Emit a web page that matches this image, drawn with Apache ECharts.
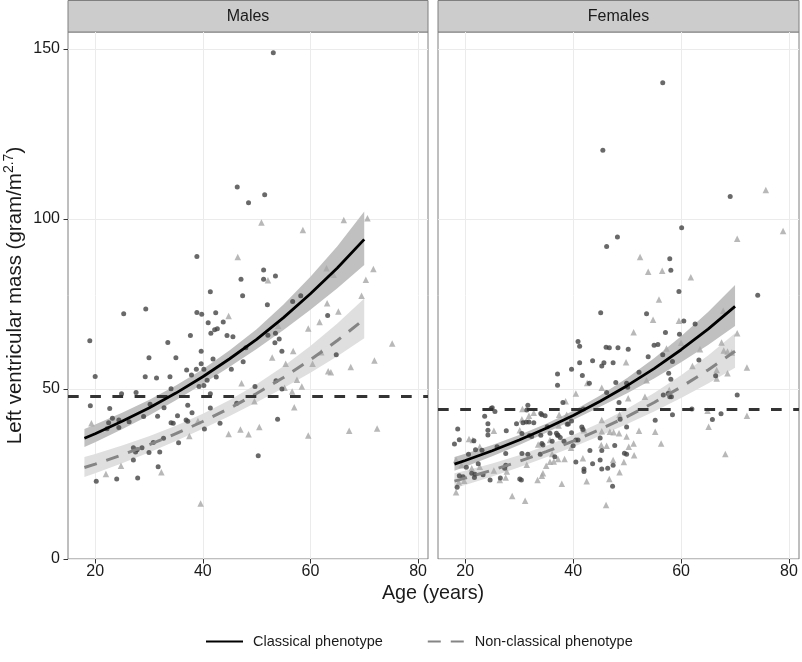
<!DOCTYPE html>
<html><head><meta charset="utf-8">
<script src="https://cdn.jsdelivr.net/npm/echarts@6/dist/echarts.min.js"></script>
<style>html,body{margin:0;padding:0;background:#fff}#c{width:802px;height:662px}</style>
</head><body><div id="c"></div>
<script>
// ---------- axes ----------
const xTicks = [20, 40, 60, 80];
const yTicks = [0, 50, 100, 150];
const xMin = 14.95, xMax = 81.85, yMin = 0, yMax = 155;
const panelNames = ['Males', 'Females'];
const seriesNames = ['Classical phenotype', 'Non-classical phenotype'];
const refLevel = [48, 44.1];

// ---------- fitted curves (read at these ages) ----------
const fitAge = [18, 20, 25, 30, 35, 40, 45, 50, 55, 60, 65, 70];
const maleClassicalFit = [35.5, 36.85, 40.5, 44.43, 48.8, 53.6, 58.9, 64.6, 71.0, 78.0, 85.6, 94.0];
const maleClassicalLo  = [32.95, 34.35, 38.14, 42.22, 46.69, 51.47, 56.53, 61.74, 67.36, 73.32, 79.63, 86.47];
const maleClassicalHi  = [38.24, 39.53, 43.0, 46.75, 51.0, 55.82, 61.37, 67.6, 74.84, 82.98, 92.02, 102.19];
const maleNonClassicalFit = [26.9, 27.91, 30.63, 33.6, 36.86, 40.44, 44.36, 48.67, 53.4, 58.58, 64.26, 70.5];
const maleNonClassicalLo  = [24.15, 25.23, 28.13, 31.3, 34.68, 38.28, 42.07, 46.07, 50.29, 54.78, 59.62, 64.89];
const maleNonClassicalHi  = [29.97, 30.88, 33.35, 36.07, 39.18, 42.73, 46.77, 51.42, 56.7, 62.64, 69.27, 76.6];
const femaleClassicalFit = [27.9, 28.97, 31.83, 34.98, 38.43, 42.23, 46.4, 50.98, 56.01, 61.55, 67.62, 74.3];
const femaleClassicalLo  = [25.98, 27.12, 30.19, 33.54, 37.14, 40.9, 44.76, 48.78, 53.12, 57.85, 62.92, 68.52];
const femaleClassicalHi  = [29.97, 30.95, 33.56, 36.48, 39.76, 43.6, 48.1, 53.27, 59.06, 65.49, 72.67, 80.57];
const femaleNonClassicalFit = [22.9, 23.78, 26.13, 28.72, 31.56, 34.69, 38.12, 41.89, 46.04, 50.59, 55.6, 61.1];
const femaleNonClassicalLo  = [20.8, 21.75, 24.29, 27.02, 29.9, 32.97, 36.23, 39.69, 43.4, 47.36, 51.63, 56.24];
const femaleNonClassicalHi  = [25.21, 25.99, 28.11, 30.53, 33.31, 36.5, 40.11, 44.22, 48.84, 54.04, 59.87, 66.39];

// ---------- observations [age, LV mass index] ----------
const maleClassicalPts = [
[53.1,148.9],[46.4,109.4],[51.5,107.1],[48.5,104.8],[38.9,89.0],
[51.3,85.0],[53.5,83.2],[47.1,82.3],[51.3,82.3],[41.4,78.6],[47.4,77.4],[58.2,77.4],
[25.3,72.1],[29.4,73.5],[38.9,72.5],[39.8,72.0],[42.4,72.4],
[41.0,69.5],[43.8,69.7],[42.2,67.4],[42.7,67.7],[41.5,66.4],[44.5,65.7],[45.6,65.4],
[19.0,64.2],[33.5,63.7],[37.7,65.7],[52.0,74.8],[56.7,75.7],[63.2,71.6],
[52.1,65.8],[53.5,66.4],[53.4,63.6],[54.2,64.7],
[20.0,53.7],[30.0,59.2],[29.3,53.6],[31.4,53.2],[35.0,59.2],[33.9,53.6],[34.1,50.1],
[39.7,61.1],[38.8,55.8],[39.7,57.4],[40.2,55.8],[41.9,58.8],[40.8,52.6],[39.3,50.7],[40.2,51.0],[42.5,53.5],[41.4,48.6],[37.9,54.1],[37.0,55.6],
[45.3,55.8],[47.5,58.0],[48.0,62.1],[46.3,45.8],[49.7,50.7],
[41.4,44.4],[40.3,38.2],[43.2,39.9],[38.0,43.0],[37.2,45.2],[36.9,40.9],[37.2,40.5],[35.3,42.1],[34.5,39.9],[34.1,40.1],[32.8,44.5],[31.6,42.0],[32.7,35.5],[30.8,34.3],[30.2,45.5],[29.0,41.9],
[28.7,32.7],[27.1,32.7],[27.5,31.5],[27.8,32.1],[27.1,29.1],[30.0,31.3],[32.0,31.5],[31.7,27.1],[35.5,34.2],
[27.9,23.8],[24.0,23.5],[20.2,22.9],
[19.1,45.1],[22.7,44.3],[23.2,41.4],[22.5,40.1],[22.2,38.3],[24.4,40.9],[24.4,38.7],[26.3,40.4],[24.9,48.6],[27.6,49.0],
[54.7,61.1],[53.6,52.4],[53.9,41.1],[50.3,30.4],[64.8,60.1],[54.7,50.0]
];
const maleNonClassicalPts = [
[50.9,99.0],[66.2,99.7],[70.6,100.2],[58.6,96.8],[46.5,88.8],[52.1,82.0],[63.0,85.5],[64.3,83.6],[71.7,85.3],[70.3,82.1],[69.5,77.4],
[44.8,71.5],[63.1,75.2],[65.2,72.8],[61.7,69.7],[59.6,67.8],[54.0,68.6],[75.2,63.4],
[19.3,39.9],[22.0,25.0],[24.8,27.4],[32.3,25.5],[39.6,16.3],[37.5,36.2],[39.1,40.6],[44.8,36.8],[47.0,38.1],[48.5,36.7],[50.5,38.8],[49.6,46.4],[47.2,51.7],
[52.9,59.3],[55.4,57.4],[56.8,61.2],[57.5,52.7],[58.4,50.7],[56.6,49.3],[57.0,44.6],[55.2,50.4],[60.4,57.4],[59.6,36.3],[62.0,60.8],[63.3,55.2],[63.8,54.9],[67.5,56.5],[71.9,58.4],[67.2,37.7],[72.4,38.4]
];
const femaleClassicalPts = [
[56.6,140.1],[45.5,120.2],[69.1,106.6],[60.1,97.4],[48.2,94.7],[46.2,91.9],[57.9,88.3],[58.1,84.9],[59.6,78.7],[74.2,77.6],
[53.6,72.1],[60.5,70.0],[62.6,69.1],[57.1,66.6],[59.7,66.1],
[45.1,72.4],[40.9,64.0],[41.2,62.6],[46.1,62.3],[46.7,62.1],[48.3,62.1],[50.2,61.7],[55.7,63.1],[55.0,62.9],
[53.9,59.5],[56.6,60.1],[58.4,58.1],[63.3,58.5],[66.4,53.9],[70.4,48.2],[67.4,42.7],[65.8,41.0],[62.0,44.1],[58.4,42.4],[58.2,47.7],[56.7,48.2],[55.2,40.8],
[52.2,54.9],[49.9,51.7],[48.5,46.0],[48.7,41.1],[49.9,38.8],[49.5,31.1],[49.9,30.8],[47.7,33.4],[47.4,27.6],[46.4,26.7],[45.3,26.5],[47.3,21.4],[45.0,29.1],[43.6,28.0],[42.0,26.5],[42.0,25.7],[40.5,28.5],[43.1,31.9],[45.3,31.9],[45.0,35.6],[41.6,38.8],[41.8,38.1],[39.7,37.1],[40.9,35.0],[40.5,35.0],[40.0,33.3],[41.9,44.1],[41.7,54.0],[43.0,51.7],[39.7,55.8],[37.1,54.4],[37.1,51.1],[38.1,46.0],[43.6,58.3],[45.3,56.8],[45.7,57.7],[46.2,49.0],[41.2,57.7],[47.4,57.7],
[38.9,39.6],[39.1,39.7],[37.1,36.4],[36.1,34.6],[35.2,38.9],[34.2,42.4],[34.8,42.1],[34.0,42.8],[31.6,45.2],[31.3,40.3],[31.8,40.3],[30.7,40.1],[29.5,39.8],[31.9,36.3],[32.3,36.0],[34.2,34.0],[34.4,33.5],[36.6,30.1],[33.9,30.8],[31.6,30.8],[30.5,31.0],[30.4,23.2],[30.1,23.5],[26.5,23.8],[24.6,23.2],[27.5,27.6],[27.3,26.7],[27.5,31.0],[27.6,37.7],[24.8,44.3],[25.0,44.5],[25.5,43.4],[23.6,42.0],[24.2,39.8],[24.2,37.9],[24.2,36.5],[23.1,32.0],[21.9,32.1],[21.6,34.8],[20.6,30.8],[20.2,27.0],[22.4,28.0],[19.6,24.2],[18.9,24.5],[18.5,21.1],[21.2,25.2],[21.8,24.9],[23.3,24.8],[21.7,24.0],[18.0,33.8],[18.6,38.2],[18.9,35.1],[30.5,36.9],[34.0,36.4],[38.3,34.6],
[57.7,54.6],[58.1,52.9],[47.9,51.9],[50.1,50.5],[57.6,48.7],[57.9,47.7],[31.4,43.8],[32.7,40.1],[35.7,37.0],[36.9,37.0],[37.2,36.4],[37.6,35.7],[39.7,40.6],[25.9,33.0]
];
const femaleNonClassicalPts = [
[75.7,108.5],[78.9,96.5],[70.4,94.2],[52.4,88.8],[53.9,84.5],[56.5,84.8],[61.8,82.9],[55.9,76.3],[54.8,70.4],[59.6,70.1],[67.8,73.0],[51.2,66.7],[70.4,66.4],
[57.3,61.9],[60.0,63.6],[63.5,61.7],[67.5,63.7],[67.9,61.3],[68.6,61.0],[69.4,60.7],[72.2,56.3],[66.6,55.6],[66.6,53.1],[68.6,54.6],[72.2,42.1],[64.9,43.6],[65.1,38.9],[68.2,30.9],[62.1,56.8],
[57.8,49.7],[55.2,37.4],[56.3,34.0],[53.3,47.7],[53.6,52.6],[49.8,57.9],[50.2,47.3],[48.6,42.4],[49.9,36.0],[48.5,37.0],[51.2,34.0],[50.3,33.0],[51.3,30.5],[49.4,28.5],[47.4,29.1],[48.6,25.5],[46.7,23.5],[46.1,15.9],[42.5,22.9],[41.8,29.6],[45.2,33.5],[46.2,33.3],[45.3,37.6],[46.8,37.4],[47.5,37.3],[45.3,40.9],[39.6,32.7],[42.6,51.8],[40.5,48.7],[38.6,46.4],[45.3,50.4],[37.4,42.4],[38.8,42.4],[37.3,39.3],[41.9,38.5],[42.0,37.9],[52.2,37.7],
[32.7,43.0],[31.8,42.1],[30.6,44.1],[30.1,37.9],[33.5,33.7],[35.7,35.0],[36.1,30.9],[38.4,29.4],[37.2,29.4],[36.4,28.7],[35.7,28.6],[35.0,27.4],[34.4,25.2],[31.4,27.7],[33.4,23.2],[37.9,22.1],[31.1,17.1],[28.7,18.5],[26.4,23.2],[27.5,24.0],[27.7,25.7],[25.3,37.7],[22.7,33.0],[20.7,35.3],[21.4,35.0],[21.2,26.7],[22.7,27.1],[25.3,26.0],[18.3,19.6],[18.3,29.1],[19.3,27.6],[34.2,24.5],[30.5,41.1],[18.8,22.6],[19.8,23.0]
];

// ---------- build ----------
const FONT = "'Liberation Sans', Arial, Helvetica, sans-serif";
const TXT = '#1a1a1a';
const pairs = (xs, ys) => xs.map((x, i) => [x, ys[i]]);

const panels = [
  {cFit: maleClassicalFit, cLo: maleClassicalLo, cHi: maleClassicalHi,
   nFit: maleNonClassicalFit, nLo: maleNonClassicalLo, nHi: maleNonClassicalHi,
   cPts: maleClassicalPts, nPts: maleNonClassicalPts},
  {cFit: femaleClassicalFit, cLo: femaleClassicalLo, cHi: femaleClassicalHi,
   nFit: femaleNonClassicalFit, nLo: femaleNonClassicalLo, nHi: femaleNonClassicalHi,
   cPts: femaleClassicalPts, nPts: femaleNonClassicalPts}
];

const grids = [
  {left: 68, top: 32, width: 360, height: 527},
  {left: 438, top: 32, width: 361, height: 527}
].map(g => Object.assign(g, {show: true, borderColor: '#7f7f7f', borderWidth: 1, backgroundColor: '#ffffff', containLabel: false, outerBoundsMode: 'none'}));

const xAxes = [0, 1].map(g => ({
  type: 'value', gridIndex: g, min: xMin, max: xMax, splitNumber: 3,
  axisLine: {show: false},
  axisTick: {show: true, length: 4.5, lineStyle: {color: '#333', width: 1}, customValues: xTicks},
  axisLabel: {show: true, customValues: xTicks, fontSize: 16, color: TXT, margin: 5, fontFamily: FONT},
  splitLine: {show: true, lineStyle: {color: '#ebebeb', width: 1}}
}));
const yAxes = [0, 1].map(g => ({
  type: 'value', gridIndex: g, min: yMin, max: yMax, interval: 50,
  axisLine: {show: false},
  axisTick: {show: g === 0, length: 4.5, lineStyle: {color: '#333', width: 1}, customValues: yTicks},
  axisLabel: {show: g === 0, customValues: yTicks, fontSize: 16, color: TXT, margin: 8, fontFamily: FONT},
  splitLine: {show: true, lineStyle: {color: '#ebebeb', width: 1}},
  name: g === 0 ? 'Left ventricular mass (gram/m{sup|2.7})' : '',
  nameLocation: 'middle', nameGap: 40, nameRotate: 90,
  nameTextStyle: {fontSize: 20.5, color: TXT, fontFamily: FONT, lineHeight: 26,
    rich: {sup: {fontSize: 14, color: TXT, fontFamily: FONT, verticalAlign: 'top', lineHeight: 13}}}
}));

const series = [];
panels.forEach((p, g) => {
  const ax = {xAxisIndex: g, yAxisIndex: g};
  const band = (lo, hi, color) => {
    series.push(Object.assign({type: 'custom', name: 'band', data: [[fitAge[0], lo[0]]], z: 1, silent: true, clip: true,
      renderItem: (params, api) => {
        const pts = [];
        fitAge.forEach((a, i) => pts.push(api.coord([a, lo[i]])));
        for (let i = fitAge.length - 1; i >= 0; i--) pts.push(api.coord([fitAge[i], hi[i]]));
        return {type: 'polygon', shape: {points: pts}, style: {fill: color, stroke: null}};
      }}, ax));
  };
  band(p.cLo, p.cHi, '#c0c0c0');
  band(p.nLo, p.nHi, '#dfdfdf');
  series.push(Object.assign({type: 'scatter', name: 'ptsN', data: p.nPts, symbol: 'triangle', symbolSize: 6.5,
    itemStyle: {color: '#a6a6a6'}, z: 2, silent: true}, ax));
  series.push(Object.assign({type: 'scatter', name: 'ptsC', data: p.cPts, symbol: 'circle', symbolSize: 5,
    itemStyle: {color: '#434343'}, z: 3, silent: true}, ax));
  series.push(Object.assign({type: 'line', name: seriesNames[1], data: pairs(fitAge, p.nFit), smooth: false,
    showSymbol: false, symbol: 'none', lineStyle: {color: '#858585', width: 3, type: [13, 10]},
    itemStyle: {color: '#858585'}, z: 4, silent: true}, ax));
  series.push(Object.assign({type: 'line', name: seriesNames[0], data: pairs(fitAge, p.cFit), smooth: false,
    showSymbol: false, symbol: 'none', lineStyle: {color: '#000', width: 2.8, type: 'solid'},
    itemStyle: {color: '#000'}, z: 5, silent: true}, ax));
  series.push(Object.assign({type: 'line', name: 'ref', data: [], z: 6, silent: true,
    markLine: {silent: true, symbol: ['none', 'none'], animation: false, label: {show: false},
      lineStyle: {color: '#333', width: 2.8, type: [10.7, 11.5]}, emphasis: {disabled: true},
      data: [{yAxis: refLevel[g]}]}}, ax));
});

const graphic = [];
grids.forEach((gr, g) => {
  graphic.push({type: 'rect', shape: {x: gr.left, y: 0.5, width: gr.width, height: 31.5},
    style: {fill: '#cccccc', stroke: '#7f7f7f', lineWidth: 1}, silent: true});
  graphic.push({type: 'text', x: gr.left + gr.width / 2, y: 16.5,
    style: {text: panelNames[g], fontSize: 16, fontFamily: FONT, fill: TXT,
      align: 'center', verticalAlign: 'middle', textAlign: 'center', textVerticalAlign: 'middle'}, silent: true});
});
graphic.push({type: 'text', x: 433, y: 594,
  style: {text: 'Age (years)', fontSize: 19.8, fontFamily: FONT, fill: TXT,
    align: 'center', verticalAlign: 'middle', textAlign: 'center', textVerticalAlign: 'middle'}, silent: true});

const chart = echarts.init(document.getElementById('c'), null, {renderer: 'canvas'});
chart.setOption({
  animation: false,
  backgroundColor: '#ffffff',
  textStyle: {fontFamily: FONT},
  grid: grids, xAxis: xAxes, yAxis: yAxes, series: series, graphic: graphic,
  legend: {show: true, data: seriesNames, left: 205, top: 634, padding: 0, itemWidth: 37, itemHeight: 14, itemGap: 44,
    selectedMode: false,
    itemStyle: {color: 'rgba(0,0,0,0)', borderColor: 'rgba(0,0,0,0)', borderWidth: 0},
    textStyle: {fontSize: 14.5, color: TXT, fontFamily: FONT, padding: [0, 0, 0, 5]}}
});
</script></body></html>
